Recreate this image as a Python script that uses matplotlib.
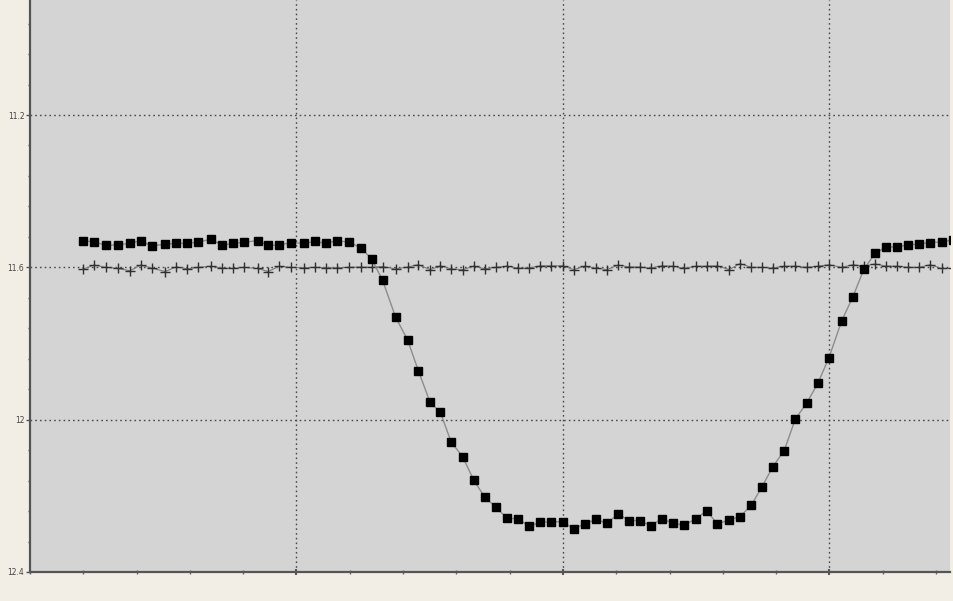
import matplotlib
matplotlib.use("Agg")
import matplotlib.pyplot as plt
from matplotlib.ticker import FixedLocator, MultipleLocator, NullFormatter

# ---- data (x in arbitrary time units; y in magnitudes) ----
times = [0.198, 0.241, 0.285, 0.331, 0.375, 0.415, 0.457, 0.507, 0.548, 0.590,
         0.632, 0.679, 0.722, 0.763, 0.803, 0.854, 0.894, 0.935, 0.978, 1.028,
         1.069, 1.110, 1.151, 1.198, 1.242, 1.282, 1.323, 1.372, 1.417, 1.457,
         1.501, 1.540, 1.580, 1.624, 1.665, 1.707, 1.747, 1.789, 1.831, 1.872,
         1.915, 1.956, 1.999, 2.040, 2.081, 2.123, 2.164, 2.207, 2.248, 2.289,
         2.330, 2.370, 2.414, 2.455, 2.499, 2.539, 2.579, 2.624, 2.664, 2.707,
         2.747, 2.787, 2.830, 2.872, 2.914, 2.956, 2.998, 3.046, 3.088, 3.129,
         3.171, 3.212, 3.253, 3.296, 3.337, 3.378, 3.421, 3.463]

target_mag = [11.530, 11.533, 11.542, 11.541, 11.537, 11.530, 11.544, 11.539, 11.537, 11.537,
              11.534, 11.526, 11.542, 11.537, 11.534, 11.530, 11.542, 11.542, 11.535, 11.537,
              11.532, 11.537, 11.530, 11.534, 11.549, 11.578, 11.634, 11.731, 11.791, 11.871,
              11.954, 11.981, 12.058, 12.098, 12.159, 12.204, 12.229, 12.258, 12.261, 12.279,
              12.270, 12.268, 12.268, 12.287, 12.274, 12.262, 12.272, 12.248, 12.265, 12.265,
              12.279, 12.260, 12.272, 12.277, 12.260, 12.239, 12.274, 12.263, 12.255, 12.224,
              12.176, 12.124, 12.081, 11.998, 11.957, 11.905, 11.837, 11.740, 11.677, 11.605,
              11.563, 11.547, 11.546, 11.541, 11.539, 11.535, 11.533, 11.528]

check_mag = [11.605, 11.594, 11.600, 11.603, 11.609, 11.594, 11.602, 11.611, 11.599, 11.604,
             11.600, 11.597, 11.602, 11.603, 11.600, 11.603, 11.611, 11.597, 11.600, 11.601,
             11.600, 11.601, 11.601, 11.600, 11.599, 11.600, 11.598, 11.604, 11.599, 11.593,
             11.606, 11.596, 11.604, 11.606, 11.597, 11.604, 11.600, 11.597, 11.602, 11.602,
             11.596, 11.596, 11.596, 11.606, 11.597, 11.602, 11.606, 11.594, 11.599, 11.599,
             11.602, 11.596, 11.597, 11.603, 11.597, 11.597, 11.596, 11.606, 11.590, 11.600,
             11.600, 11.602, 11.597, 11.597, 11.600, 11.597, 11.593, 11.600, 11.593, 11.597,
             11.591, 11.597, 11.597, 11.600, 11.600, 11.593, 11.603, 11.603]

y_ticks = [11.2, 11.6, 12.0, 12.4]
y_tick_labels = ["11.2", "11.6", "12", "12.4"]
x_major = [1, 2, 3]

# ---- figure ----
W, H = 954, 601
fig = plt.figure(figsize=(W / 100, H / 100), dpi=100)
fig.patch.set_facecolor("#f2eee5")

ax = fig.add_axes([30 / W, (H - 572) / H, 920 / W, 572 / H])
ax.set_facecolor("#d4d4d4")

ax.plot(times, check_mag, color="#7a7a7a", lw=0.8, zorder=3)
ax.plot(times, check_mag, ls="none", marker="+", ms=6.5, mew=1.0,
        color="#303030", zorder=4)
ax.plot(times, target_mag, color="#8c8c8c", lw=1.0, zorder=5)
ax.plot(times, target_mag, ls="none", marker="s", ms=6.2,
        color="black", zorder=6)

ax.set_xlim(0, 920 / 266.5)
ax.set_ylim(12.4, 11.2 - 115 / 380.8)

ax.xaxis.set_major_locator(FixedLocator(x_major))
ax.xaxis.set_minor_locator(MultipleLocator(0.2))
ax.xaxis.set_major_formatter(NullFormatter())
ax.yaxis.set_major_locator(FixedLocator(y_ticks))
ax.set_yticklabels(y_tick_labels)
ax.yaxis.set_minor_locator(MultipleLocator(0.08))

ax.grid(True, which="major", color="#4a4a4a", ls=(0, (1.2, 2.2)), lw=1.0, zorder=1)

for s in ("top", "right"):
    ax.spines[s].set_visible(False)
for s in ("left", "bottom"):
    ax.spines[s].set_color("#555555")
    ax.spines[s].set_linewidth(1.6)

ax.tick_params(axis="y", which="major", direction="out", length=3, width=1,
               color="#555555", labelsize=5.5, labelcolor="#444444", pad=1)
ax.tick_params(axis="y", which="minor", direction="out", length=1.5, width=1,
               color="#555555")
ax.tick_params(axis="x", which="major", direction="inout", length=4, width=1.5,
               color="#555555")
ax.tick_params(axis="x", which="minor", direction="inout", length=3, width=1,
               color="#666666")

fig.savefig("out.png", dpi=100, facecolor=fig.get_facecolor())
